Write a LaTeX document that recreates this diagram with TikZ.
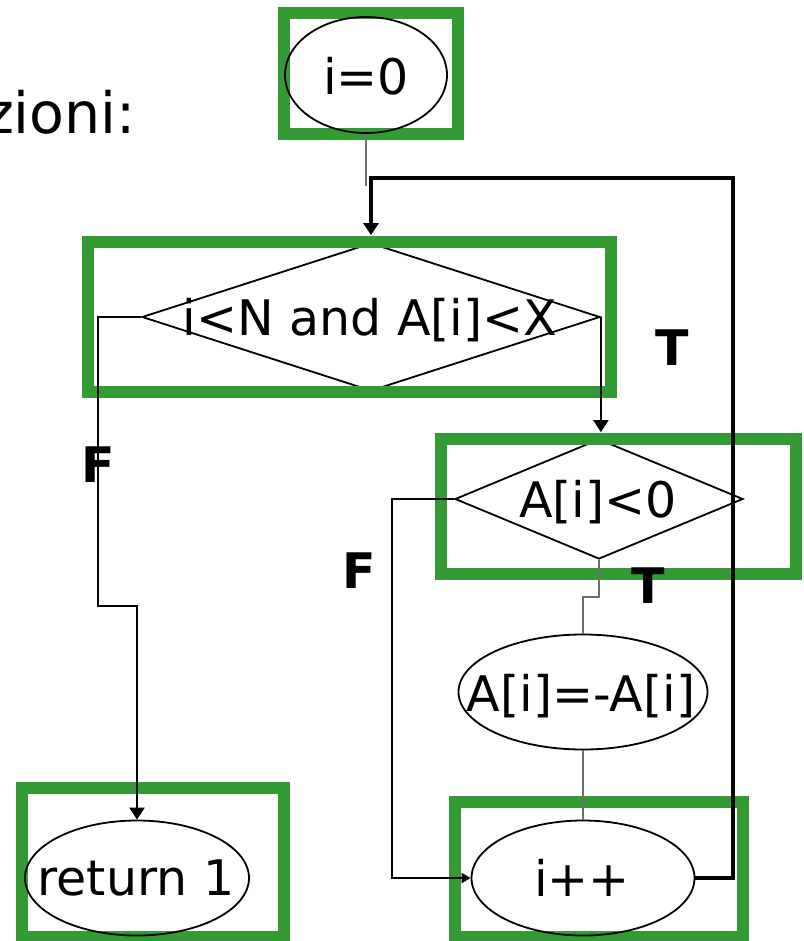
\documentclass[tikz,border=0pt]{standalone}
\usepackage{fontspec}
\setmainfont{DejaVu Sans}
\usetikzlibrary{shapes.geometric,arrows.meta}
\definecolor{hlgreen}{RGB}{52,154,52}
\definecolor{thingray}{RGB}{110,110,110}
\begin{document}
\begin{tikzpicture}[x=1pt,y=-1pt,
  txt/.style={inner sep=0pt,anchor=base,font=\fontsize{49}{59}\selectfont},
  lbl/.style={inner sep=0pt,anchor=base,font=\fontsize{49}{59}\selectfont\bfseries},
  oval/.style={draw,ellipse,line width=1.8pt,inner sep=0pt},
  dia/.style={draw,diamond,line width=1.8pt,inner sep=0pt},
  hl/.style={draw=hlgreen,line width=12pt},
  conn/.style={line width=2.4pt},
  loopline/.style={line width=3.3pt},
  thin/.style={draw=thingray,line width=1.3pt},
  tip/.style={-{Triangle[length=12pt,width=15pt]}},
  smalltip/.style={-{Triangle[length=9pt,width=10pt]}}
]
\useasboundingbox (0,0) rectangle (803,941);
\fill[white] (0,0) rectangle (803,941);

% decisions (drawn beneath the highlight boxes)
\node[dia,minimum width=458pt,minimum height=148pt] (d1) at (371,317) {};
\node[dia,minimum width=288pt,minimum height=120pt] (d2) at (599,499) {};

% highlight boxes
\draw[hl] (284,13) rectangle (458,134);
\draw[hl] (88,242) rectangle (611,392);
\draw[hl] (441,439) rectangle (796,574);
\draw[hl] (22,788) rectangle (284,937);
\draw[hl] (455,802) rectangle (743,937);

% ovals
\node[oval,minimum width=162pt,minimum height=116pt] (e0) at (366,75) {};
\node[oval,minimum width=224pt,minimum height=115pt] (eret) at (137,878) {};
\node[oval,minimum width=249pt,minimum height=115pt] (eneg) at (583,692) {};
\node[oval,minimum width=223pt,minimum height=115pt] (einc) at (583,878) {};

% texts
\node[inner sep=0pt,anchor=base east,font=\fontsize{57}{68}\selectfont] (head) at (136,134) {zioni:};
\node[txt] (t0) at (366,95) {i=0};
\node[txt] (t1) at (370,335) {i<N and A[i]<X};
\node[txt] (t2) at (598,517) {A[i]<0};
\node[txt] (t3) at (581,711) {A[i]=-A[i]};
\node[txt] (t4) at (582,896) {i++};
\node[txt] (t5) at (136,895) {return 1};

% connectors
\coordinate (j0) at (366,186);
\draw[thin] (e0.south) -- (j0);
\draw[loopline,tip,shorten >=7pt] (einc.east) -| (733,178) -| (d1.north);
\draw[conn,tip] (d1.west) -| (98,606) -| (eret.north);
\draw[conn,line width=2pt,tip,shorten >=6pt] (d1.east) -- (d1.east |- d2.north);
\draw[conn,smalltip] (d2.west) -| (392,878) -- (einc.west);
\draw[thin] (d2.south) |- (583,597) -- (eneg.north);
\draw[thin] (eneg.south) -- (einc.north);

% branch labels
\node[lbl] (lt1) at (672,365) {T};
\node[lbl] (lf1) at (98,482) {F};
\node[lbl] (lf2) at (359,588) {F};
\node[lbl] (lt2) at (648,603) {T};
\end{tikzpicture}
\end{document}
